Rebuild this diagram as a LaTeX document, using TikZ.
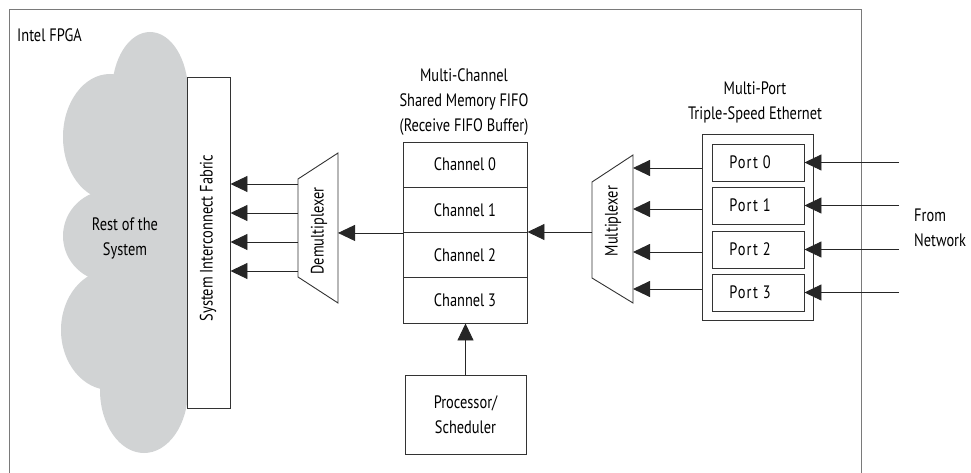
\documentclass[tikz,border=0pt]{standalone}
\usepackage{fontspec}
\setmainfont[FakeStretch=0.8]{PT Sans}
\usetikzlibrary{arrows.meta}
\definecolor{cloudgray}{HTML}{D1D3D4}
\definecolor{framegray}{HTML}{7A7A7A}
\begin{document}
\begin{tikzpicture}[x=1pt,y=-1pt,
  box/.style={draw=black!80, line width=0.9pt, fill=white, inner sep=0pt},
  lbl/.style={font=\fontsize{18}{25}\selectfont, inner sep=0pt, align=center},
  arr/.style={draw=black!85, line width=0.9pt, -{Triangle[length=17pt,width=16pt]}},
  chan/.style={box, lbl, minimum width=124pt, minimum height=45.25pt},
  portbox/.style={box, minimum width=92pt, minimum height=37pt},
  porttxt/.style={lbl, font=\fontsize{18}{25}\selectfont\addfontfeature{LetterSpace=6}}]
\useasboundingbox (0,0) rectangle (971,473);
% outer frame
\draw[framegray, line width=0.9pt] (9,473) -- (9,9) -- (861,9) -- (861,473);
\node[lbl, anchor=west] (fpga) at (17,35) {Intel FPGA};
% cloud
\fill[cloudgray] (150,92) ellipse [x radius=38pt, y radius=60pt];
\fill[cloudgray] (110,137) ellipse [x radius=47pt, y radius=63pt];
\fill[cloudgray] (110,236) ellipse [x radius=47pt, y radius=46pt];
\fill[cloudgray] (110,330) ellipse [x radius=49pt, y radius=60pt];
\fill[cloudgray] (144,390) ellipse [x radius=44pt, y radius=63pt];
\fill[cloudgray] (112,90) rectangle (187,400);
\node[lbl] (rest) at (125,238) {Rest of the\\System};
% fabric
\node[box, minimum width=43pt, minimum height=331pt] (fab) at (208.5,242.5) {};
\node[lbl, rotate=90] (fabtxt) at (208,238) {System Interconnect Fabric};
% demultiplexer
\coordinate (dmNT) at (298,179);
\coordinate (dmNB) at (298,277);
\coordinate (dmWT) at (338,153);
\coordinate (dmWB) at (338,303);
\draw[box] (dmNT) -- (dmWT) -- (dmWB) -- (dmNB) -- cycle;
\node[lbl, rotate=90] (dmtxt) at (319,231) {Demultiplexer};
\coordinate (d0) at (298,184);
\coordinate (d1) at (298,213);
\coordinate (d2) at (298,242);
\coordinate (d3) at (298,271);
\foreach \i in {0,1,2,3} \draw[arr] (d\i) -- (d\i -| fab.east);
% FIFO
\node[lbl] (fifotitle) at (464,102) {Multi-Channel\\Shared Memory FIFO\\(Receive FIFO Buffer)};
\node[chan] (ch0) at (465,164.625) {Channel 0};
\node[chan] (ch1) at (465,209.875) {Channel 1};
\node[chan] (ch2) at (465,255.125) {Channel 2};
\node[chan] (ch3) at (465,300.375) {Channel 3};
\draw[arr] (ch1.south west) -- (ch1.south west -| dmWT);
% processor
\node[box, lbl, minimum width=121pt, minimum height=79pt] (proc) at (465.5,414.5) {Processor/\\Scheduler};
\draw[arr] (proc.north) -- (proc.north |- ch3.south);
% multiplexer
\coordinate (mxNT) at (592,182);
\coordinate (mxNB) at (592,278);
\coordinate (mxWT) at (633,155);
\coordinate (mxWB) at (633,303);
\draw[box] (mxNT) -- (mxWT) -- (mxWB) -- (mxNB) -- cycle;
\node[lbl, rotate=90] (mxtxt) at (613,221) {Multiplexer};
\coordinate (mxL) at (592,232);
\draw[arr] (mxL) -- (mxL -| ch1.east);
% ethernet
\node[lbl] (ethtitle) at (755,102) {Multi-Port\\Triple-Speed Ethernet};
\node[box, minimum width=111pt, minimum height=186pt] (eth) at (757.5,227) {};
\node[portbox] (p0) at (758,162.5) {};
\node[portbox] (p1) at (758,205.5) {};
\node[portbox] (p2) at (758,249.5) {};
\node[portbox] (p3) at (758,292.5) {};
\node[porttxt] (p0t) at (750,162.5) {Port 0};
\node[porttxt] (p1t) at (750,205.5) {Port 1};
\node[porttxt] (p2t) at (750,249.5) {Port 2};
\node[porttxt] (p3t) at (750,292.5) {Port 3};
\coordinate (e0) at (702,168);
\coordinate (e1) at (702,209);
\coordinate (e2) at (702,252);
\coordinate (e3) at (702,289);
\foreach \i in {0,1,2,3} \draw[arr] (e\i) -- (e\i -| mxWT);
% network
\coordinate (n0) at (899,162.5);
\coordinate (n1) at (899,205.5);
\coordinate (n2) at (899,249.5);
\coordinate (n3) at (899,292.5);
\foreach \i in {0,1,2,3} \draw[arr] (n\i) -- (p\i.east);
\node[lbl, anchor=west, align=left] (net) at (914,228) {From\\Network};
\end{tikzpicture}
\end{document}
